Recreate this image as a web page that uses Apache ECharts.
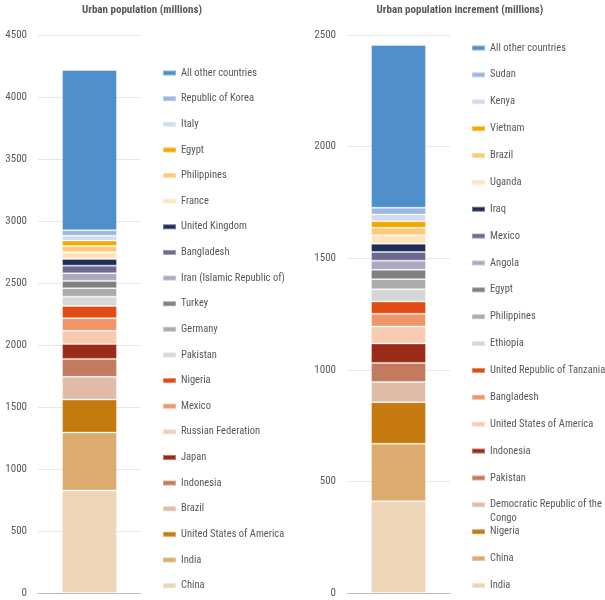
<!DOCTYPE html>
<html>
<head>
<meta charset="utf-8">
<script src="https://cdn.jsdelivr.net/npm/echarts@6/dist/echarts.min.js"></script>
<style>
  html, body { margin: 0; padding: 0; background: #fff; }
  #chart { width: 605px; height: 600px; }
</style>
</head>
<body>
<div id="chart"></div>
<script>
// stacking order: bottom segment first
const urbanCountries = [
    "China", "India", "United States of America", "Brazil", "Indonesia", "Japan",
    "Russian Federation", "Mexico", "Nigeria", "Pakistan", "Germany", "Turkey",
    "Iran (Islamic Republic of)", "Bangladesh", "United Kingdom", "France",
    "Philippines", "Egypt", "Italy", "Republic of Korea", "All other countries"
];
const urbanValues = [
    827, 467, 266, 183, 145, 121, 105, 102, 99, 75, 68, 59,
    62, 61, 54, 54, 51, 43, 40, 44, 1292
];

const incrementCountries = [
    "India", "China", "Nigeria", "Democratic Republic of the Congo", "Pakistan",
    "Indonesia", "United States of America", "Bangladesh",
    "United Republic of Tanzania", "Ethiopia", "Philippines", "Egypt", "Angola",
    "Mexico", "Iraq", "Uganda", "Brazil", "Vietnam", "Kenya", "Sudan",
    "All other countries"
];
const incrementValues = [
    411, 258, 186, 90, 86, 87, 76, 57, 55, 55, 45, 42, 41,
    39, 37, 38, 33, 30, 30, 30, 729
];

// same palette for both bars, by stack position
const palette = [
    "#efd5b7", "#dcab6d", "#c57a10", "#e0bba8", "#c47a5e", "#9b2b19",
    "#f8cbb0", "#ee956a", "#e14c14", "#d6d6d6", "#ababab", "#808080",
    "#aba8c0", "#6b6b8e", "#1f2d57", "#ffe4be", "#ffc978", "#f5a800",
    "#cfdbf2", "#9db7e0", "#4f8fcc"
];

const urbanTicks = { min: 0, max: 4500, interval: 500 };
const incrementTicks = { min: 0, max: 2500, interval: 500 };

const FONT = '"Roboto Condensed", Roboto, sans-serif';
const TXT = "#595959";
const PRE = "R|"; // keeps right-hand series apart from left ones with the same name
const DRC = "Democratic Republic of the Congo";

const chart = echarts.init(document.getElementById("chart"));

function makeSeries(names, values, idx, prefix) {
    return names.map((n, i) => ({
        name: prefix + n,
        type: "bar",
        stack: "s" + idx,
        xAxisIndex: idx,
        yAxisIndex: idx,
        barWidth: 55,
        itemStyle: {
            color: palette[i],
            borderColor: "rgba(255,255,255,0.35)",
            borderWidth: 1
        },
        emphasis: { disabled: true },
        data: [values[i]]
    }));
}

function yAxis(idx, ticks) {
    return {
        type: "value",
        gridIndex: idx,
        min: ticks.min,
        max: ticks.max,
        interval: ticks.interval,
        axisLine: { show: false },
        axisTick: { show: false },
        axisLabel: {
            color: TXT, fontFamily: FONT, fontSize: 11, margin: 11,
            formatter: v => String(v)
        },
        splitLine: { lineStyle: { color: "#e8e8e8", width: 1 } }
    };
}

function xAxis(idx) {
    return {
        type: "category",
        gridIndex: idx,
        data: [""],
        axisLine: { lineStyle: { color: "#bfbfbf", width: 1 } },
        axisTick: { show: false },
        axisLabel: { show: false }
    };
}

const legendText = { color: TXT, fontFamily: FONT, fontSize: 10.5, lineHeight: 14 };

function legend(left, top, gap, data, formatter) {
    return {
        orient: "vertical",
        left: left,
        top: top,
        padding: 0,
        itemWidth: 13,
        itemHeight: 5,
        itemGap: gap,
        icon: "rect",
        selectedMode: false,
        data: data,
        formatter: formatter,
        textStyle: legendText
    };
}

const urbanLegend = urbanCountries.slice().reverse();
const incrLegend = incrementCountries.slice().reverse().map(n => PRE + n);
const strip = n => n.replace(PRE, "");
const drcAt = incrLegend.indexOf(PRE + DRC);
const rStep = 26.87;
const rLeft = 471;

chart.setOption({
    animation: false,
    title: [
        {
            text: "Urban population (millions)",
            left: 137, top: 0, textAlign: "center",
            textStyle: { color: TXT, fontFamily: FONT, fontSize: 11, fontWeight: "bold" }
        },
        {
            text: "Urban population increment (millions)",
            left: 455, top: 0, textAlign: "center",
            textStyle: { color: TXT, fontFamily: FONT, fontSize: 11, fontWeight: "bold" }
        }
    ],
    grid: [
        { left: 38, top: 35, width: 103, bottom: 7 },
        { left: 347, top: 35, width: 103, bottom: 7 }
    ],
    xAxis: [xAxis(0), xAxis(1)],
    yAxis: [yAxis(0, urbanTicks), yAxis(1, incrementTicks)],
    legend: [
        legend(162, 66, 11.63, urbanLegend, "{name}"),
        legend(rLeft, 41, rStep - 14, incrLegend.slice(0, drcAt), strip),
        // wrapped DRC label: leading blank line keeps the first line level with the swatch
        legend(rLeft, 48 + drcAt * rStep - 21, 0, [PRE + DRC],
            () => "\nDemocratic Republic of the\nCongo"),
        legend(rLeft, 48 + (drcAt + 1) * rStep - 7, rStep - 14,
            incrLegend.slice(drcAt + 1), strip)
    ],
    series: makeSeries(urbanCountries, urbanValues, 0, "")
        .concat(makeSeries(incrementCountries, incrementValues, 1, PRE))
});
</script>
</body>
</html>
